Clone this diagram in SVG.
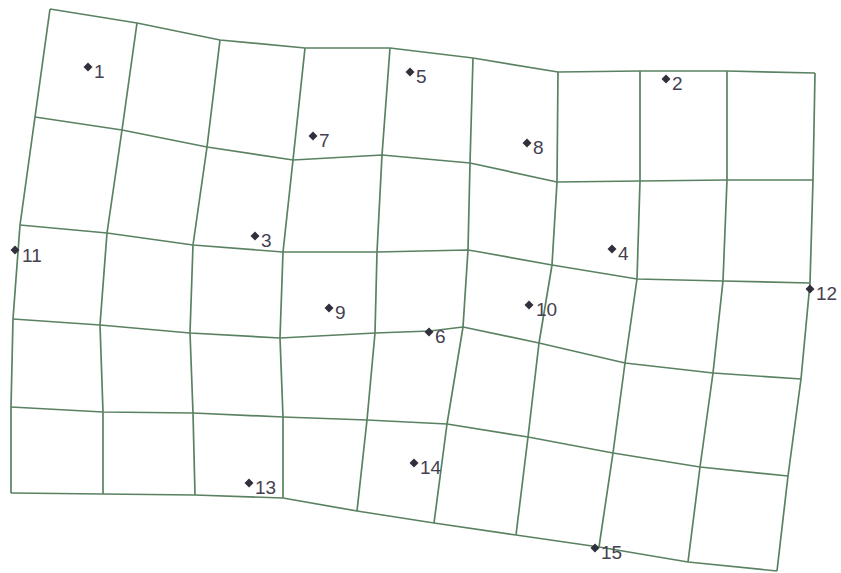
<svg xmlns="http://www.w3.org/2000/svg" width="841" height="573" viewBox="0 0 841 573">
<style>
.g{fill:none;stroke:#5a8262;stroke-width:1.7;stroke-linejoin:round}
.d{fill:#302f3c}
.t{font-family:"Liberation Sans",Arial,sans-serif;font-size:19px;fill:#45404f}
</style>
<defs><path id="dm" d="M0,-4.5 L4.5,0 L0,4.5 L-4.5,0Z"/></defs>
<rect width="841" height="573" fill="#ffffff"/>
<g id="grid">
<polyline class="g" points="50,9 137,23 220,40 305,48 390,48 473,58 558,72 640,71 727,71 815,73"/>
<polyline class="g" points="35,117 122,130 207,147 293,160 382,155 470,163 557,182 640,181 727,180 813,180"/>
<polyline class="g" points="20,225 107,233 193,245 283,252 377,252 468,250 480,252 552,265 637,279 723,281 810,283"/>
<polyline class="g" points="13,319 100,325 190,333 280,338 375,333 430,331 463,327 539,343 625,363 713,373 801,379"/>
<polyline class="g" points="11,407 103,412 193,413 283,417 367,420 447,424 528,437 613,453 700,467 788,476"/>
<polyline class="g" points="11,493 103,494 195,495 283,498 357,511 434,523 516,535 599,547 688,562 777,571"/>
<polyline class="g" points="50,9 35,117 20,225 13,319 11,407 11,493"/>
<polyline class="g" points="137,23 122,130 107,233 100,325 103,412 103,494"/>
<polyline class="g" points="220,40 207,147 193,245 190,333 193,413 195,495"/>
<polyline class="g" points="305,48 293,160 283,252 280,338 283,417 283,498"/>
<polyline class="g" points="390,48 382,155 377,252 375,333 367,420 357,511"/>
<polyline class="g" points="473,58 470,163 468,250 463,327 447,424 434,523"/>
<polyline class="g" points="558,72 557,182 552,265 539,343 528,437 516,535"/>
<polyline class="g" points="640,71 640,181 637,279 625,363 613,453 599,547"/>
<polyline class="g" points="727,71 727,180 723,281 713,373 700,467 688,562"/>
<polyline class="g" points="815,73 813,180 810,283 801,379 788,476 777,571"/>
</g>
<g id="p1"><use href="#dm" class="d" x="88" y="67"/><text class="t" x="94" y="78">1</text></g>
<g id="p2"><use href="#dm" class="d" x="666" y="79"/><text class="t" x="672" y="90">2</text></g>
<g id="p3"><use href="#dm" class="d" x="255" y="236"/><text class="t" x="261" y="247">3</text></g>
<g id="p4"><use href="#dm" class="d" x="612" y="249"/><text class="t" x="618" y="260">4</text></g>
<g id="p5"><use href="#dm" class="d" x="410" y="72"/><text class="t" x="416" y="83">5</text></g>
<g id="p6"><use href="#dm" class="d" x="429" y="332"/><text class="t" x="435" y="343">6</text></g>
<g id="p7"><use href="#dm" class="d" x="313" y="136"/><text class="t" x="319" y="147">7</text></g>
<g id="p8"><use href="#dm" class="d" x="527" y="143"/><text class="t" x="533" y="154">8</text></g>
<g id="p9"><use href="#dm" class="d" x="329" y="308"/><text class="t" x="335" y="319">9</text></g>
<g id="p10"><use href="#dm" class="d" x="529" y="305"/><text class="t" x="536" y="316">10</text></g>
<g id="p11"><use href="#dm" class="d" x="15" y="250"/><text class="t" x="22" y="262">11</text></g>
<g id="p12"><use href="#dm" class="d" x="810" y="289"/><text class="t" x="816" y="300">12</text></g>
<g id="p13"><use href="#dm" class="d" x="249" y="483"/><text class="t" x="255" y="494">13</text></g>
<g id="p14"><use href="#dm" class="d" x="414" y="463"/><text class="t" x="420" y="474">14</text></g>
<g id="p15"><use href="#dm" class="d" x="595" y="548"/><text class="t" x="601" y="559">15</text></g>
</svg>
